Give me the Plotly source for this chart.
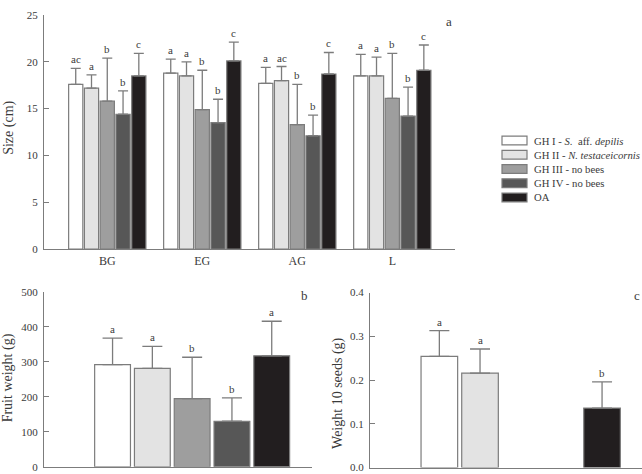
import plotly.graph_objects as go

# ---------------- data ----------------
categories = ["BG", "EG", "AG", "L"]
series_names = ["GH I - <i>S.</i>  aff. <i>depilis</i>",
                "GH II - <i>N. testaceicornis</i>",
                "GH III - no bees",
                "GH IV - no bees",
                "OA"]
colors = ["#ffffff", "#e3e3e3", "#9e9e9e", "#575757", "#221e1f"]

# Panel a: size (cm), mean and SD per group
size_gh1 = [17.6, 18.8, 17.7, 18.5]
size_gh2 = [17.2, 18.5, 18.0, 18.5]
size_gh3 = [15.8, 14.9, 13.3, 16.1]
size_gh4 = [14.4, 13.5, 12.1, 14.2]
size_oa = [18.5, 20.1, 18.7, 19.1]
size_sd_gh1 = [1.7, 1.5, 1.7, 2.3]
size_sd_gh2 = [1.4, 1.5, 1.5, 2.0]
size_sd_gh3 = [4.6, 4.2, 4.3, 4.8]
size_sd_gh4 = [2.5, 2.5, 2.2, 3.1]
size_sd_oa = [2.4, 2.0, 2.3, 2.7]
size_letters_gh1 = ["ac", "a", "a", "a"]
size_letters_gh2 = ["a", "a", "ac", "a"]
size_letters_gh3 = ["b", "b", "b", "b"]
size_letters_gh4 = ["b", "b", "b", "b"]
size_letters_oa = ["c", "c", "c", "c"]

# Panel b: fruit weight (g)
fruit_means = [292, 281, 195, 130, 317]
fruit_sd = [76, 63, 118, 67, 99]
fruit_letters = ["a", "a", "b", "b", "a"]

# Panel c: weight of 10 seeds (g)
seed_means = [0.254, 0.216, None, None, 0.136]
seed_sd = [0.059, 0.055, None, None, 0.060]
seed_letters = ["a", "a", "", "", "b"]

size_ticks = [0, 5, 10, 15, 20, 25]
fruit_ticks = [0, 100, 200, 300, 400, 500]
seed_ticks = [0.0, 0.1, 0.2, 0.3, 0.4]

# ---------------- styling ----------------
FONT = "Liberation Serif"
TXT = "#3a3a3a"
LINE = "#7c7c7c"
W, H = 642, 474
BARGAP = 0.17
N = len(series_names)

size_means = [size_gh1, size_gh2, size_gh3, size_gh4, size_oa]
size_sds = [size_sd_gh1, size_sd_gh2, size_sd_gh3, size_sd_gh4, size_sd_oa]
size_letters = [size_letters_gh1, size_letters_gh2, size_letters_gh3,
                size_letters_gh4, size_letters_oa]

fig = go.Figure()

def err(sd_list):
    return dict(type="data", symmetric=False, array=sd_list,
                arrayminus=[0 if v is not None else None for v in sd_list],
                color=LINE, thickness=1.3)

for i in range(N):
    e = err(size_sds[i]); e["width"] = 5
    fig.add_trace(go.Bar(x=categories, y=size_means[i], name=series_names[i],
                         marker=dict(color=colors[i], line=dict(color=LINE, width=1.2)),
                         error_y=e, xaxis="x", yaxis="y", showlegend=False))

for i in range(N):
    e = err([fruit_sd[i]]); e["width"] = 10
    fig.add_trace(go.Bar(x=["fruit"], y=[fruit_means[i]], name=series_names[i],
                         marker=dict(color=colors[i], line=dict(color=LINE, width=1.2)),
                         error_y=e, xaxis="x2", yaxis="y2", showlegend=False))

for i in range(N):
    e = err([seed_sd[i]]); e["width"] = 10
    fig.add_trace(go.Bar(x=["seeds"], y=[seed_means[i]], name=series_names[i],
                         marker=dict(color=colors[i], line=dict(color=LINE, width=1.2)),
                         error_y=e, xaxis="x3", yaxis="y3", showlegend=False))

annotations = []
slot = (1 - BARGAP) / N

def letter(xref, yref, x, y, t):
    annotations.append(dict(x=x, y=y, xref=xref, yref=yref, text=t, showarrow=False,
                            yanchor="bottom", yshift=1,
                            font=dict(family=FONT, size=11, color=TXT)))

for i in range(N):
    for j in range(len(categories)):
        letter("x", "y", j + (i - (N - 1) / 2) * slot,
               size_means[i][j] + size_sds[i][j], size_letters[i][j])
    letter("x2", "y2", (i - (N - 1) / 2) * slot, fruit_means[i] + fruit_sd[i], fruit_letters[i])
    if seed_means[i] is not None:
        letter("x3", "y3", (i - (N - 1) / 2) * slot, seed_means[i] + seed_sd[i], seed_letters[i])

# panel labels
for t, px, py in [("a", 449, 16), ("b", 304, 297), ("c", 637, 297)]:
    annotations.append(dict(x=px / W, y=1 - py / H, xref="paper", yref="paper", text=t,
                            showarrow=False, xanchor="center", yanchor="middle",
                            font=dict(family=FONT, size=13, color=TXT)))

# axis titles
for t, px, py in [("Size (cm)", 9, 125), ("Fruit weight (g)", 8, 382),
                  ("Weight 10 seeds (g)", 338, 397)]:
    annotations.append(dict(x=px / W, y=1 - py / H, xref="paper", yref="paper", text=t,
                            showarrow=False, textangle=-90, xanchor="center",
                            yanchor="middle", font=dict(family=FONT, size=14, color=TXT)))

# custom legend
shapes = []
for i in range(N):
    cy = 138 + 14.6 * i
    shapes.append(dict(type="rect", xref="paper", yref="paper",
                       x0=502 / W, x1=527 / W, y0=1 - (cy + 4.5) / H, y1=1 - (cy - 4.5) / H,
                       fillcolor=colors[i], line=dict(color=LINE, width=1.2)))
    annotations.append(dict(x=532 / W, y=1 - cy / H, xref="paper", yref="paper",
                            text=series_names[i], showarrow=False, xanchor="left",
                            yanchor="middle", font=dict(family=FONT, size=10.7, color=TXT)))

yax_common = dict(showline=True, linecolor=LINE, linewidth=1.3, ticks="inside",
                  ticklen=5, tickcolor=LINE, tickwidth=1.3, showgrid=False, zeroline=False,
                  tickfont=dict(family=FONT, size=11, color=TXT), ticklabelstandoff=3)
xax_common = dict(showline=True, linecolor=LINE, linewidth=1.3, ticks="",
                  showgrid=False, zeroline=False, type="category",
                  tickfont=dict(family=FONT, size=12, color=TXT))

fig.update_layout(
    width=W, height=H, margin=dict(l=0, r=0, t=0, b=0),
    paper_bgcolor="white", plot_bgcolor="white",
    barmode="group", bargap=BARGAP, bargroupgap=0.1,
    showlegend=False,
    xaxis=dict(**xax_common, domain=[44 / W, 455 / W], range=[-0.666, 3.66], anchor="y"),
    yaxis=dict(**yax_common, domain=[1 - 249.3 / H, 1 - 9.3 / H], range=[0, 25],
               tickvals=size_ticks, anchor="x"),
    xaxis2=dict(**xax_common, domain=[44 / W, 312 / W], range=[-0.618, 0.5], anchor="y2",
                showticklabels=False),
    yaxis2=dict(**yax_common, domain=[1 - 472.7 / H, 1 - 293.3 / H], range=[0, 500],
                tickvals=fruit_ticks, anchor="x2"),
    xaxis3=dict(**xax_common, domain=[370 / W, 1.0], range=[-0.615, 0.495], anchor="y3",
                showticklabels=False),
    yaxis3=dict(**yax_common, domain=[1 - 473.5 / H, 1 - 294 / H], range=[0, 0.4],
                tickvals=seed_ticks, tickformat=".1f", anchor="x3"),
    annotations=annotations, shapes=shapes,
)

fig.write_html("out.html")
